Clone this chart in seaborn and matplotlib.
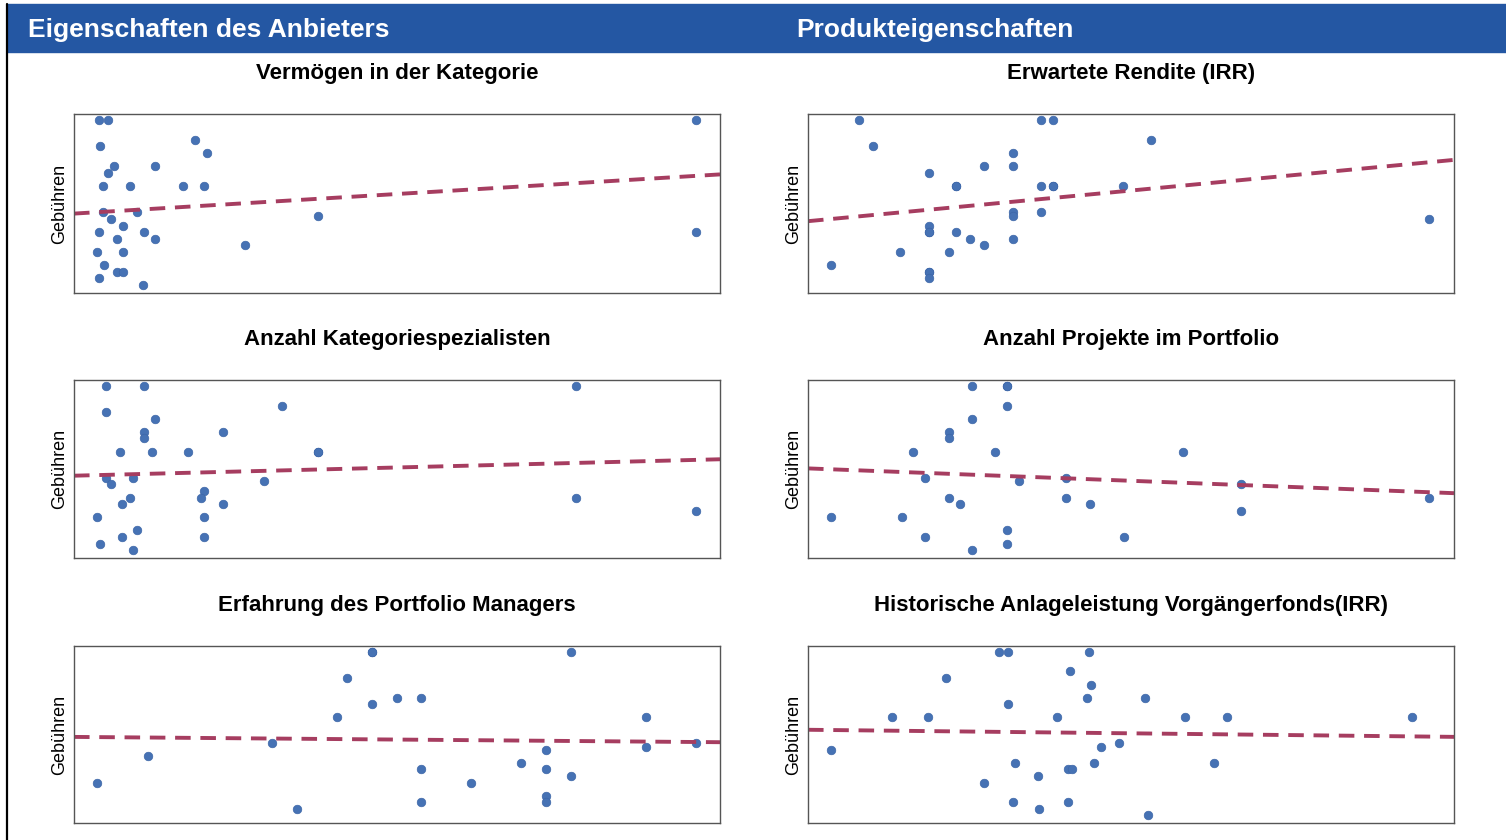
import numpy as np
import pandas as pd
import seaborn as sns

from matplotlib import pyplot as plt
from matplotlib.patches import Rectangle
from matplotlib.lines import Line2D

# --- data (x: relative position of the factor, y: fee level) ---
verm_x = [3.8, 5.2, 4.0, 18.8, 20.6, 6.2, 5.2, 12.6, 4.5, 8.7, 16.8, 20.2, 4.5, 9.8, 5.8, 37.7,
          7.6, 3.8, 10.8, 6.6, 12.6, 26.5, 3.6, 7.6, 4.7, 6.6, 7.6, 3.8, 10.7, 96.3, 96.3]
verm_y = [3.0, 3.0, 2.6, 2.7, 2.5, 2.3, 2.2, 2.3, 2.0, 2.0, 2.0, 2.0, 1.6, 1.6, 1.5, 1.55,
          1.4, 1.3, 1.3, 1.2, 1.2, 1.1, 1.0, 1.0, 0.8, 0.7, 0.7, 0.6, 0.5, 3.0, 1.3]

irr_x = [7.9, 36.0, 38.0, 10.1, 53.1, 31.7, 18.7, 27.2, 31.7, 22.9, 22.9, 36.0, 38.0, 38.0, 48.8,
         31.7, 31.7, 36.0, 96.2, 18.7, 18.7, 18.7, 22.9, 25.1, 31.7, 27.2, 14.3, 21.9, 3.6,
         18.7, 18.7, 18.7]
irr_y = [3.0, 3.0, 3.0, 2.6, 2.7, 2.5, 2.2, 2.3, 2.3, 2.0, 2.0, 2.0, 2.0, 2.0, 2.0,
         1.6, 1.55, 1.6, 1.5, 1.4, 1.3, 1.3, 1.3, 1.2, 1.2, 1.1, 1.0, 1.0, 0.8,
         0.7, 0.7, 0.6]

spez_x = [4.9, 10.8, 77.7, 4.9, 32.2, 12.6, 10.8, 23.1, 10.8, 7.1, 12.0, 17.6, 37.7, 37.7,
          4.9, 9.2, 5.8, 29.4, 20.1, 8.7, 19.7, 77.7, 7.4, 23.1, 96.3, 3.6, 20.1, 9.8,
          7.4, 20.1, 4.0, 9.2]
spez_y = [3.0, 3.0, 3.0, 2.6, 2.7, 2.5, 2.3, 2.3, 2.2, 2.0, 2.0, 2.0, 2.0, 2.0,
          1.6, 1.6, 1.5, 1.55, 1.4, 1.3, 1.3, 1.3, 1.2, 1.2, 1.1, 1.0, 1.0, 0.8,
          0.7, 0.7, 0.6, 0.5]

proj_x = [25.4, 30.8, 30.8, 30.8, 25.4, 21.8, 21.8, 16.3, 29.0, 58.0, 18.1, 40.0, 32.7, 67.0,
          21.8, 40.0, 96.2, 23.6, 43.6, 67.0, 3.6, 14.5, 30.8, 18.1, 48.9, 30.8, 25.4]
proj_y = [3.0, 3.0, 3.0, 2.7, 2.5, 2.3, 2.2, 2.0, 2.0, 2.0, 1.6, 1.6, 1.55, 1.5,
          1.3, 1.3, 1.3, 1.2, 1.2, 1.1, 1.0, 1.0, 0.8, 0.7, 0.7, 0.6, 0.5]

erf_x = [46.1, 46.1, 76.9, 42.2, 50.0, 53.7, 46.1, 40.7, 88.5, 30.6, 96.3, 88.5, 73.1, 11.4,
         69.2, 53.7, 73.1, 76.9, 3.6, 61.5, 73.1, 53.7, 73.1, 34.5]
erf_y = [3.0, 3.0, 3.0, 2.6, 2.3, 2.3, 2.2, 2.0, 2.0, 1.6, 1.6, 1.55, 1.5, 1.4,
         1.3, 1.2, 1.2, 1.1, 1.0, 1.0, 0.8, 0.7, 0.7, 0.6]

hist_x = [29.6, 31.0, 43.5, 40.6, 21.3, 43.8, 43.2, 52.1, 31.0, 13.0, 18.6, 38.5, 58.4, 64.9,
          93.5, 48.1, 45.4, 3.6, 32.0, 44.3, 62.8, 40.2, 40.9, 35.6, 27.3, 31.8, 40.2, 35.8, 52.7]
hist_y = [3.0, 3.0, 3.0, 2.7, 2.6, 2.5, 2.3, 2.3, 2.2, 2.0, 2.0, 2.0, 2.0, 2.0,
          2.0, 1.6, 1.55, 1.5, 1.3, 1.3, 1.3, 1.2, 1.2, 1.1, 1.0, 0.7, 0.7, 0.6, 0.5]

titles = ['Vermögen in der Kategorie', 'Erwartete Rendite (IRR)',
          'Anzahl Kategoriespezialisten', 'Anzahl Projekte im Portfolio',
          'Erfahrung des Portfolio Managers', 'Historische Anlageleistung Vorgängerfonds(IRR)']
headers = ['Eigenschaften des Anbieters', 'Produkteigenschaften']
series = [(verm_x, verm_y), (irr_x, irr_y), (spez_x, spez_y),
          (proj_x, proj_y), (erf_x, erf_y), (hist_x, hist_y)]

HEAD_BLUE = '#2457A3'
DOT_BLUE = '#4672B4'
LINE_RED = '#A63D60'

sns.set_style('white')
plt.rcParams['font.family'] = ['Liberation Sans', 'DejaVu Sans']


def __config_panel(ax, title):
    ax.set_xlim(0, 100)
    ax.set_ylim(0.38, 3.09)
    ax.set_xticks([])
    ax.set_yticks([])
    ax.set_xlabel('')
    ax.set_ylabel('Gebühren', fontsize=13, labelpad=4, color='black')
    ax.set_title(title, fontsize=16, fontweight='bold', pad=25, color='black')
    for s in ax.spines.values():
        s.set_color('#555555')
        s.set_linewidth(1.0)


def main():
    fig = plt.figure(figsize=(15.06, 8.4), dpi=100)
    W, H = 1506., 840.

    # header band and left rule
    fig.patches.append(Rectangle((7 / W, 1 - 52 / H), 1 - 7 / W, 48 / H,
                                 transform=fig.transFigure, color=HEAD_BLUE, zorder=0))
    fig.lines.append(Line2D([7 / W, 7 / W], [0, 1 - 4 / H], transform=fig.transFigure,
                            color='black', linewidth=1.6))
    for hx, htxt in zip([28, 796], headers):
        fig.text(hx / W, 1 - 30 / H, htxt, color='white', fontsize=19,
                 fontweight='bold', va='center', ha='left')

    lefts = [74 / W, 808 / W]
    rows = [(114, 293), (380, 558), (646, 823)]
    for i, ((xs, ys), title) in enumerate(zip(series, titles)):
        top, bot = rows[i // 2]
        ax = fig.add_axes([lefts[i % 2], 1 - bot / H, 646 / W, (bot - top) / H])
        ax.set_xlim(0, 100)
        df = pd.DataFrame({'x': xs, 'Gebühren': ys})
        sns.regplot(data=df, x='x', y='Gebühren', ax=ax, ci=None, truncate=False,
                    scatter_kws=dict(s=38, color=DOT_BLUE, alpha=1,
                                     edgecolor='#3D66A8', linewidths=0.5),
                    line_kws=dict(color=LINE_RED, linewidth=2.8, dashes=(4, 2.5)))
        __config_panel(ax, title)

    plt.savefig('out.png', dpi=100)


if __name__ == '__main__':
    main()
